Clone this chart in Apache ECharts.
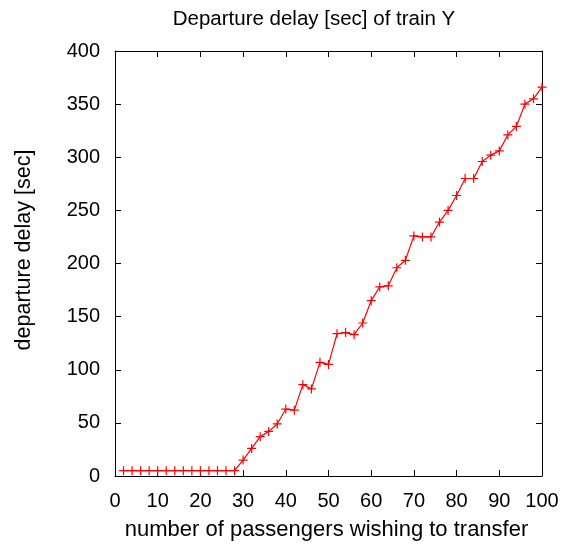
<!DOCTYPE html>
<html>
<head>
<meta charset="utf-8">
<script src="https://cdn.jsdelivr.net/npm/echarts@6/dist/echarts.min.js"></script>
<style>
  html, body { margin: 0; padding: 0; background: #fff; }
  #chart { width: 573px; height: 548px; }
</style>
</head>
<body>
<div id="chart"></div>
<script>
// Number of passengers wishing to transfer
const passengers = [2, 4, 6, 8, 10, 12, 14, 16, 18, 20, 22, 24, 26, 28, 30, 32, 34, 36, 38, 40,
  42, 44, 46, 48, 50, 52, 54, 56, 58, 60, 62, 64, 66, 68, 70, 72, 74, 76, 78, 80,
  82, 84, 86, 88, 90, 92, 94, 96, 98, 100];
// Departure delay of train Y in seconds
const delay = [5, 5, 5, 5, 5, 5, 5, 5, 5, 5, 5, 5, 5, 5, 15, 26, 37, 42, 49, 63,
  62, 86, 82, 107, 105, 134, 135, 133, 144, 165, 178, 179, 196, 203, 226, 225, 225, 239, 250, 264,
  280, 280, 296, 302, 306, 321, 329, 350, 355, 366];

const titleText = 'Departure delay [sec] of train Y';
const xTitle = 'number of passengers wishing to transfer';
const yTitle = 'departure delay [sec]';

const font = 'Liberation Sans, Arial, Helvetica, sans-serif';
const chart = echarts.init(document.getElementById('chart'), null, { renderer: 'canvas' });

const frameLine = { show: true, onZero: false, lineStyle: { color: '#000', width: 1 } };
const inTick = { show: true, inside: true, length: 6, lineStyle: { color: '#000', width: 1 } };

chart.setOption({
  animation: false,
  backgroundColor: '#fff',
  grid: { left: 115, right: 31, top: 51, bottom: 72, containLabel: false },
  graphic: [
    {
      type: 'text', x: 314, y: 19,
      style: { text: titleText, font: '20.5px ' + font, fill: '#000',
        textAlign: 'center', textVerticalAlign: 'middle' }
    },
    {
      type: 'text', x: 326.5, y: 530,
      style: { text: xTitle, font: '22px ' + font, fill: '#000',
        textAlign: 'center', textVerticalAlign: 'middle' }
    },
    {
      type: 'text', x: 24, y: 250, rotation: Math.PI / 2,
      style: { text: yTitle, font: '21.5px ' + font, fill: '#000',
        textAlign: 'center', textVerticalAlign: 'middle' }
    }
  ],
  xAxis: [
    {
      type: 'value', min: 0, max: 100, interval: 10, position: 'bottom',
      axisLine: frameLine, axisTick: inTick,
      axisLabel: { fontFamily: font, fontSize: 20, color: '#000', margin: 15 },
      splitLine: { show: false }
    },
    {
      type: 'value', min: 0, max: 100, interval: 10, position: 'top',
      axisLine: frameLine, axisTick: inTick,
      axisLabel: { show: false }, splitLine: { show: false }
    }
  ],
  yAxis: [
    {
      type: 'value', min: 0, max: 400, interval: 50, position: 'left',
      axisLine: frameLine, axisTick: inTick,
      axisLabel: { fontFamily: font, fontSize: 20, color: '#000', margin: 15 },
      splitLine: { show: false }
    },
    {
      type: 'value', min: 0, max: 400, interval: 50, position: 'right',
      axisLine: frameLine, axisTick: inTick,
      axisLabel: { show: false }, splitLine: { show: false }
    }
  ],
  series: [{
    type: 'line',
    data: passengers.map((p, i) => [p, delay[i]]),
    symbol: 'path://M0,5L10,5M5,0L5,10',
    symbolSize: 9,
    showSymbol: true,
    itemStyle: { color: 'rgba(0,0,0,0)', borderColor: '#ff0000', borderWidth: 1.2 },
    lineStyle: { color: '#ff0000', width: 1.2 },
    emphasis: { disabled: true }
  }]
});
</script>
</body>
</html>
